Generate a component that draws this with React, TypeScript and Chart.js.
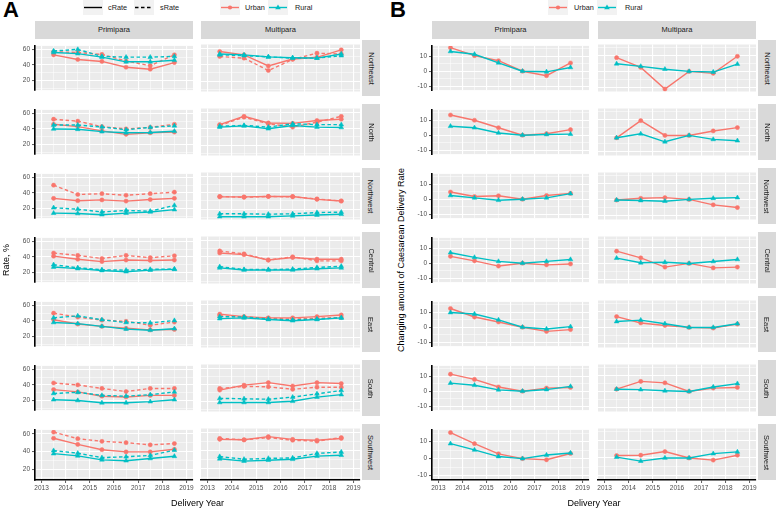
import React, { useEffect, useRef } from 'react';
import { Chart, registerables } from 'chart.js';
Chart.register(...registerables);

const FONT = "'Liberation Sans', Arial, sans-serif";
Chart.defaults.font.family = FONT;

// ---------- DATA ----------
const years = [2013.5, 2014.5, 2015.5, 2016.5, 2017.5, 2018.5];
const xTicks = [2013, 2014, 2015, 2016, 2017, 2018, 2019];
const regions = ['Northeast', 'North', 'Northwest', 'Central', 'East', 'South', 'Southwest'];
const parities = ['Primipara', 'Multipara'];
const rateTicks = [20, 40, 60];
const changeTicks = [-10, 0, 10];

// Panel A (rows follow `regions`)
const primUrbanC = [
  [53, 47, 44.5, 37, 34.5, 43],
  [46, 43, 37.5, 33, 35, 36],
  [33, 30, 31, 29.5, 31.5, 33],
  [41, 37, 34, 36, 35.5, 36],
  [41.5, 36, 33, 30.5, 28.5, 29],
  [34, 31, 25.5, 24.5, 26.5, 26.5],
  [55, 48, 42, 39.5, 39.5, 42.5],
];
const primUrbanS = [
  [57, 56, 53.5, 45, 39, 53],
  [52.5, 50, 43, 40, 42, 46],
  [50, 38, 39, 37, 39, 41],
  [45, 42, 38, 42, 39, 41.5],
  [50, 45, 41, 39.5, 34.5, 38.5],
  [42.5, 40, 35.5, 31.5, 35.5, 35.5],
  [62, 54.5, 51.5, 50, 47.5, 49],
];
const primRuralC = [
  [56, 54.5, 50, 44, 44, 46],
  [40, 39.5, 36.5, 35, 35.5, 37],
  [14, 13.5, 12, 14, 15.5, 18.5],
  [27, 25, 22.5, 21, 23, 24],
  [38, 36.5, 33, 29.5, 28, 30],
  [21, 20, 17, 17, 18.5, 21],
  [37.5, 35, 30.5, 29.5, 32, 34.5],
];
const primRuralS = [
  [58, 60, 51, 50, 50, 51],
  [45, 45, 42.5, 39, 42, 44],
  [21, 19, 15.5, 17.5, 16.5, 24],
  [30, 26, 23.5, 23, 24, 24.5],
  [44, 46.5, 41.5, 38, 37.5, 40.5],
  [29, 30.5, 26.5, 25.5, 27.5, 31],
  [41, 38, 33, 34, 35.5, 41.5],
];
const multUrbanC = [
  [56, 52, 38.5, 47, 49, 58],
  [45, 55, 47, 46.5, 50, 51.5],
  [35, 35, 35.5, 35.5, 32, 30],
  [44.5, 42.5, 36, 39, 37, 37],
  [48, 45, 43.5, 43.5, 45, 47],
  [33.5, 39.5, 42.5, 38.5, 42.5, 41.5],
  [52.5, 52, 55.5, 52.5, 51.5, 53.5],
];
const multUrbanS = [
  [50, 48, 33, 46.5, 54, 53],
  [44, 54, 46, 42, 48, 55],
  [35.5, 34.5, 35.5, 35, 32.5, 30],
  [47, 43.5, 36, 40, 35, 35],
  [46, 44.5, 43, 42, 43, 44],
  [35.5, 38, 37.5, 34.5, 37, 37],
  [53.5, 52, 54.5, 51.5, 50.5, 54.5],
];
const multRuralC = [
  [53, 52, 49.5, 48.5, 48, 53],
  [42, 43.5, 40, 44, 42, 41.5],
  [11, 11, 11, 12, 13, 14],
  [26.5, 24, 24, 24, 25.5, 26.5],
  [42.5, 43.5, 41.5, 40, 41.5, 43.5],
  [18.5, 18.5, 18.5, 20, 25, 28],
  [31, 28.5, 29.5, 30.5, 34, 35],
];
const multRuralS = [
  [52, 51, 49.5, 48, 48, 51],
  [43, 44, 42, 46, 45, 45],
  [14.5, 14.5, 14, 14.5, 16, 16.5],
  [28, 24.5, 24.5, 25, 27, 28.5],
  [45, 44.5, 42, 41, 42, 43.5],
  [23.5, 23, 22.5, 25, 29, 33],
  [33.5, 30.5, 31.5, 32, 37, 38.5],
];

// Panel B
const primUrbanD = [
  [15.7, 10.4, 7, 0, -3, 5.5],
  [13.5, 10, 5, 0, 1, 3.7],
  [4.8, 1.8, 2.3, 0, 2.5, 3.9],
  [4.6, 1.6, -1.9, 0, -1.1, -0.5],
  [12.5, 6.8, 3.5, 0, -2.8, -1.6],
  [11.4, 7.9, 2.8, 0, 2.1, 2.5],
  [15.3, 8.8, 2.8, 0, -0.7, 3],
];
const primRuralD = [
  [13.2, 11.3, 5.6, 0, -0.4, 2.5],
  [6, 5, 1.5, 0, 0.5, 0.7],
  [2.5, 0.9, -0.7, 0, 0.9, 3.7],
  [7, 3.9, 1.2, 0, 1.2, 2.5],
  [9.8, 8.8, 4.9, 0, -1.2, 0.4],
  [5.4, 4, 0.9, 0, 1.1, 3.2],
  [8.8, 5.1, 1.2, 0, 2.1, 3.3],
];
const multUrbanD = [
  [8.6, 2.5, -11.1, 0, -1.2, 9.5],
  [-1.5, 9.3, 0, 0, 2.8, 4.9],
  [-0.4, 0.7, 1.1, 0, -3.4, -5.1],
  [7.7, 3.5, -2.3, 0, -2.8, -2.3],
  [6.8, 2.8, 1.2, 0, -0.4, 2.1],
  [1.4, 6.3, 5.4, 0, 2.1, 2.5],
  [1.4, 1.6, 3.7, 0, -1.2, 1.6],
];
const multRuralD = [
  [4.8, 3.2, 1.4, 0, -0.4, 4.6],
  [-1.5, 1, -4, 0, -2.5, -3.3],
  [-0.4, -0.7, -1.1, 0, 0.7, 1.1],
  [3.3, 0.4, 0.7, 0, 1.2, 2.5],
  [3.7, 4.6, 2.3, 0, 0, 2.3],
  [1.4, 1.1, 0.4, 0, 2.8, 4.9],
  [0.5, -1.8, 0, 0, 2.5, 3.5],
];

// ---------- STYLE / LAYOUT ----------
const URBAN = '#F8766D';
const RURAL = '#00BFC4';
const X_MIN = 2012.73;
const X_MAX = 2019.27;
const ROW_TOP0 = 40;
const ROW_PITCH = 64;
const ROW_H = 56;
const TOP_STRIP_Y = 21;
const TOP_STRIP_H = 18;

const panelA = { cols: [[35, 193], [201, 360]], rightStrip: 362, yMin: 7.6, yMax: 64.5 };
const panelB = { cols: [[432, 589], [598, 756]], rightStrip: 758, yMin: -12.6, yMax: 16.9 };

const bgPlugin = {
  id: 'panelBg',
  beforeDraw(chart: any) {
    const { ctx, chartArea: a } = chart;
    ctx.save();
    ctx.fillStyle = '#EBEBEB';
    ctx.fillRect(a.left, a.top, a.right - a.left, a.bottom - a.top);
    ctx.restore();
  },
};

type Series = { values: number[]; color: string; dashed: boolean; rural: boolean };

function withMinors(major: number[], lo: number, hi: number) {
  const step = major[1] - major[0];
  const out: number[] = [];
  const first = major[0] - step / 2;
  if (first >= lo) out.push(first);
  major.forEach((v, i) => {
    out.push(v);
    const m = v + step / 2;
    if (i < major.length - 1 || m <= hi) out.push(m);
  });
  return out.filter((v) => v >= lo && v <= hi);
}

function Facet(props: {
  plotL: number; plotR: number; top: number; showY: boolean; showX: boolean;
  series: Series[]; yMin: number; yMax: number; yMajor: number[];
}) {
  const { plotL, plotR, top, showY, showX, series, yMin, yMax, yMajor } = props;
  const ref = useRef<HTMLCanvasElement>(null);
  const lm = showY ? 23 : 8;
  const rm = 9;
  const bm = showX ? 17 : 0;
  const w = plotR - plotL + lm + rm;
  const h = ROW_H + bm;
  useEffect(() => {
    const xGrid = withMinors(xTicks, X_MIN, X_MAX);
    const yGrid = withMinors(yMajor, yMin, yMax);
    const isMajX = (v: number) => xTicks.includes(v);
    const isMajY = (v: number) => yMajor.includes(v);
    const chart = new Chart(ref.current as HTMLCanvasElement, {
      type: 'line',
      data: {
        datasets: series.map((s) => ({
          data: years.map((x, i) => ({ x, y: s.values[i] })),
          borderColor: s.color,
          backgroundColor: s.color,
          borderWidth: 1.4,
          borderDash: s.dashed ? [3.5, 2.5] : [],
          pointStyle: s.rural ? 'triangle' : 'circle',
          pointRadius: s.rural ? 2.7 : 2.1,
          pointBorderWidth: 0.5,
          pointBackgroundColor: s.color,
          pointBorderColor: s.color,
          tension: 0,
        })),
      },
      options: {
        responsive: false,
        animation: false,
        devicePixelRatio: 1,
        layout: { padding: { left: 0, right: rm, top: 0, bottom: 0 } },
        plugins: { legend: { display: false }, tooltip: { enabled: false } },
        events: [],
        scales: {
          x: {
            type: 'linear',
            min: X_MIN,
            max: X_MAX,
            afterBuildTicks: (s: any) => { s.ticks = xGrid.map((v) => ({ value: v })); },
            afterFit: (s: any) => { s.height = bm; },
            ticks: {
              display: showX,
              autoSkip: false,
              maxRotation: 0,
              padding: 1,
              color: '#4D4D4D',
              font: { size: 6.5, family: FONT },
              callback: (v: any) => (isMajX(v) ? String(v) : ''),
            },
            grid: {
              color: '#FFFFFF',
              lineWidth: (c: any) => (c.tick && isMajX(c.tick.value) ? 1.1 : 0.5),
              drawTicks: showX,
              tickLength: 3,
              tickWidth: 0.8,
              tickColor: (c: any) => (c.tick && isMajX(c.tick.value) ? '#333333' : 'rgba(0,0,0,0)'),
            },
            border: { display: showX, color: '#000000', width: 1.6 },
          },
          y: {
            type: 'linear',
            min: yMin,
            max: yMax,
            afterBuildTicks: (s: any) => { s.ticks = yGrid.map((v) => ({ value: v })); },
            afterFit: (s: any) => { s.width = lm; },
            ticks: {
              display: showY,
              autoSkip: false,
              padding: 2,
              color: '#4D4D4D',
              font: { size: 6.5, family: FONT },
              callback: (v: any) => (isMajY(v) ? String(v) : ''),
            },
            grid: {
              color: '#FFFFFF',
              lineWidth: (c: any) => (c.tick && isMajY(c.tick.value) ? 1.1 : 0.5),
              drawTicks: showY,
              tickLength: 3,
              tickWidth: 0.8,
              tickColor: (c: any) => (c.tick && isMajY(c.tick.value) ? '#333333' : 'rgba(0,0,0,0)'),
            },
            border: { display: showY, color: '#000000', width: 1.6 },
          },
        },
      },
      plugins: [bgPlugin],
    } as any);
    return () => chart.destroy();
  }, []);
  return (
    <canvas
      ref={ref}
      width={w}
      height={h}
      style={{ position: 'absolute', left: plotL - lm, top, width: w, height: h }}
    />
  );
}

function TopStrip({ left, right, label }: { left: number; right: number; label: string }) {
  return (
    <div
      style={{
        position: 'absolute', left, top: TOP_STRIP_Y, width: right - left, height: TOP_STRIP_H,
        background: '#D9D9D9', color: '#1A1A1A', fontSize: 7.5, lineHeight: `${TOP_STRIP_H}px`,
        textAlign: 'center', fontFamily: FONT,
      }}
    >
      {label}
    </div>
  );
}

function SideStrip({ left, top, label }: { left: number; top: number; label: string }) {
  return (
    <div
      style={{
        position: 'absolute', left, top, width: 18, height: ROW_H, background: '#D9D9D9',
        display: 'flex', alignItems: 'center', justifyContent: 'center', overflow: 'visible',
      }}
    >
      <span
        style={{
          transform: 'rotate(90deg)', whiteSpace: 'nowrap', fontSize: 7.5, color: '#1A1A1A',
          fontFamily: FONT, display: 'inline-block',
        }}
      >
        {label}
      </span>
    </div>
  );
}

function LegendKey({ left, color, dashed, marker }: { left: number; color: string; dashed?: boolean; marker?: 'circle' | 'triangle' }) {
  return (
    <svg
      width={20}
      height={15}
      style={{ position: 'absolute', left, top: 0, background: '#F2F2F2' }}
    >
      <line x1={1} y1={7.5} x2={19} y2={7.5} stroke={color} strokeWidth={1.4} strokeDasharray={dashed ? '3.5 2.5' : undefined} />
      {marker === 'circle' && <circle cx={10} cy={7.5} r={2.1} fill={color} />}
      {marker === 'triangle' && <polygon points="10,4.6 12.8,9.3 7.2,9.3" fill={color} />}
    </svg>
  );
}

function LegendText({ left, text }: { left: number; text: string }) {
  return (
    <div style={{ position: 'absolute', left, top: 0, height: 15, lineHeight: '15px', fontSize: 7.3, color: '#1A1A1A', fontFamily: FONT, whiteSpace: 'nowrap' }}>
      {text}
    </div>
  );
}

function Panel({ cfg, kind }: { cfg: typeof panelA; kind: 'A' | 'B' }) {
  const items: React.ReactNode[] = [];
  parities.forEach((p, ci) => {
    const [l, r] = cfg.cols[ci];
    items.push(<TopStrip key={`ts${kind}${ci}`} left={l} right={r} label={p} />);
  });
  regions.forEach((reg, ri) => {
    const top = ROW_TOP0 + ri * ROW_PITCH;
    items.push(<SideStrip key={`ss${kind}${ri}`} left={cfg.rightStrip} top={top} label={reg} />);
    parities.forEach((_, ci) => {
      const [l, r] = cfg.cols[ci];
      let series: Series[];
      if (kind === 'A') {
        const uc = ci === 0 ? primUrbanC : multUrbanC;
        const us = ci === 0 ? primUrbanS : multUrbanS;
        const rc = ci === 0 ? primRuralC : multRuralC;
        const rs = ci === 0 ? primRuralS : multRuralS;
        series = [
          { values: rc[ri], color: RURAL, dashed: false, rural: true },
          { values: rs[ri], color: RURAL, dashed: true, rural: true },
          { values: uc[ri], color: URBAN, dashed: false, rural: false },
          { values: us[ri], color: URBAN, dashed: true, rural: false },
        ];
      } else {
        const ud = ci === 0 ? primUrbanD : multUrbanD;
        const rd = ci === 0 ? primRuralD : multRuralD;
        series = [
          { values: rd[ri], color: RURAL, dashed: false, rural: true },
          { values: ud[ri], color: URBAN, dashed: false, rural: false },
        ];
      }
      items.push(
        <Facet
          key={`f${kind}${ri}${ci}`}
          plotL={l}
          plotR={r}
          top={top}
          showY={ci === 0}
          showX={ri === regions.length - 1}
          series={series}
          yMin={cfg.yMin}
          yMax={cfg.yMax}
          yMajor={kind === 'A' ? rateTicks : changeTicks}
        />
      );
    });
  });
  return <>{items}</>;
}

function AxisTitleY({ cx, cy, text }: { cx: number; cy: number; text: string }) {
  return (
    <div
      style={{
        position: 'absolute', left: cx, top: cy, transform: 'translate(-50%, -50%) rotate(-90deg)',
        whiteSpace: 'nowrap', fontSize: 9, color: '#000', fontFamily: FONT,
      }}
    >
      {text}
    </div>
  );
}

function AxisTitleX({ cx, cy, text }: { cx: number; cy: number; text: string }) {
  return (
    <div
      style={{
        position: 'absolute', left: cx, top: cy, transform: 'translate(-50%, -50%)',
        whiteSpace: 'nowrap', fontSize: 9, color: '#000', fontFamily: FONT,
      }}
    >
      {text}
    </div>
  );
}

export default function App() {
  return (
    <div
      style={{
        position: 'fixed', left: 0, top: 0, width: 778, height: 509, background: '#FFFFFF',
        overflow: 'hidden', fontFamily: FONT,
      }}
    >
      <div style={{ position: 'absolute', left: 3, top: -3, fontSize: 22, fontWeight: 'bold', fontFamily: FONT }}>A</div>
      <div style={{ position: 'absolute', left: 390, top: -3, fontSize: 22, fontWeight: 'bold', fontFamily: FONT }}>B</div>

      <LegendKey left={83} color="#000000" />
      <LegendText left={108} text="cRate" />
      <LegendKey left={134} color="#000000" dashed />
      <LegendText left={160} text="sRate" />
      <LegendKey left={220} color={URBAN} marker="circle" />
      <LegendText left={245} text="Urban" />
      <LegendKey left={268} color={RURAL} marker="triangle" />
      <LegendText left={295} text="Rural" />

      <LegendKey left={548} color={URBAN} marker="circle" />
      <LegendText left={574} text="Urban" />
      <LegendKey left={597} color={RURAL} marker="triangle" />
      <LegendText left={625} text="Rural" />

      <Panel cfg={panelA} kind="A" />
      <Panel cfg={panelB} kind="B" />

      <AxisTitleY cx={6} cy={260} text="Rate, %" />
      <AxisTitleY cx={401} cy={260} text="Changing amount of Caesarean Delivery Rate" />
      <AxisTitleX cx={197.5} cy={503} text="Delivery Year" />
      <AxisTitleX cx={594} cy={503} text="Delivery Year" />
    </div>
  );
}
